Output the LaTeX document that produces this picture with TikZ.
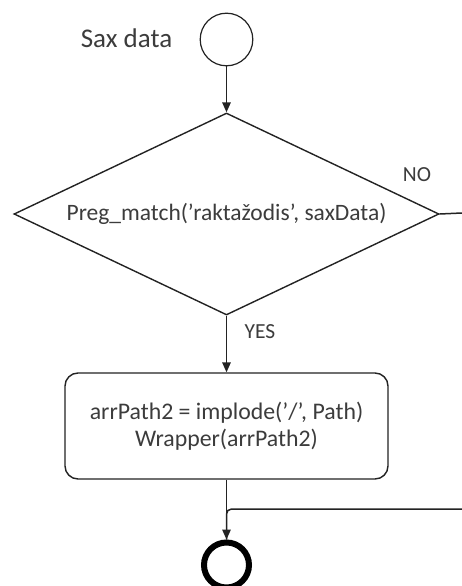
\documentclass[tikz,border=0pt]{standalone}
\usepackage{fontspec}
\setmainfont{Carlito}
\usetikzlibrary{shapes.geometric,arrows.meta}
\definecolor{xText}{RGB}{60,60,60}
\definecolor{xLine}{RGB}{35,35,35}

\begin{document}
\begin{tikzpicture}[x=1pt,y=-1pt,
    flow/.style={xLine, line width=1.5pt, -{Triangle[length=10pt,width=8.5pt]}},
    plain/.style={xLine, line width=1.5pt},
    lbl/.style={text=xText, font=\fontsize{21.5}{26}\selectfont, inner sep=0pt}
]

    % -------------------------------------------------
    % Page frame
    % -------------------------------------------------
    \useasboundingbox[fill=white] (0,0) rectangle (462,586);

    % -------------------------------------------------
    % Start state and its caption
    % -------------------------------------------------
    \node[draw=xLine, line width=1.2pt, circle, minimum size=52.6pt, inner sep=0pt]
        (start) at (226.5,39.5) {};
    \node[text=xText, font=\fontsize{27}{32}\selectfont, inner sep=0pt]
        (caption) at (126.5,38) {Sax data};

    % -------------------------------------------------
    % Decision
    % -------------------------------------------------
    \node[draw=xLine, line width=1.4pt, diamond, aspect=2.1,
          minimum width=425pt, minimum height=202pt, inner sep=0pt,
          text=xText, font=\fontsize{23.5}{28}\selectfont]
        (test) at (226.5,214) {Preg\_match(’raktažodis’, saxData)};

    % -------------------------------------------------
    % Action box
    % -------------------------------------------------
    \node[draw=xLine, line width=1.4pt, rectangle, rounded corners=13pt,
          minimum width=323pt, minimum height=106pt, align=center,
          text=xText, font=\fontsize{23.8}{26.7}\selectfont]
        (act) at (226.5,426) {arrPath2 = implode(’/’, Path)\\Wrapper(arrPath2)};

    % -------------------------------------------------
    % End state (thick ring, cut by the page edge)
    % -------------------------------------------------
    \node[draw=black, line width=6pt, circle, minimum size=45pt, inner sep=0pt]
        (end) at (226.5,565) {};

    % -------------------------------------------------
    % Free ends on the right border
    % -------------------------------------------------
    \coordinate (noOut) at (462,213);
    \coordinate (back) at (462,509);

    % -------------------------------------------------
    % Connectors
    % -------------------------------------------------
    \draw[plain, rounded corners=5pt] (back) -| (end.north);
    \draw[flow] (start) -- (test.north);
    \draw[flow] (test.south) -- (act.north);
    \draw[flow] (act.south) -- (end.north);
    \draw[plain] (test.east) -- (noOut);

    % -------------------------------------------------
    % Branch labels
    % -------------------------------------------------
    \node[lbl] (yes) at (260,332) {YES};
    \node[lbl] (no) at (417,175) {NO};
\end{tikzpicture}
\end{document}
